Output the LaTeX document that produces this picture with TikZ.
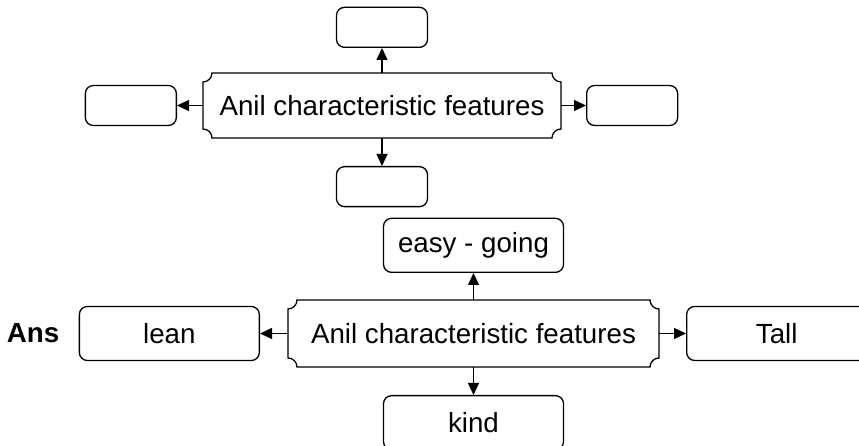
\documentclass[tikz,border=0pt]{standalone}
\usepackage{fontspec}
\setmainfont{Liberation Sans}
\usetikzlibrary{positioning, arrows.meta}

\tikzset{
  emptybox/.style={draw, rounded corners=8pt, line width=1.3pt, minimum width=91pt, minimum height=40pt, inner sep=0pt},
  answer/.style={emptybox, minimum width=180pt, minimum height=54pt},
  plaque/.style={inner sep=0pt, outer sep=0pt},
  arr/.style={line width=1.3pt, -{Triangle[length=12pt,width=11pt]}},
}
\newcommand{\txt}{\fontsize{27.7}{33}\selectfont}

% concave-cornered frame round a node
\newcommand{\plaqueframe}[1]{%
  \draw[line width=1.3pt]
    ([xshift=9pt]#1.north west) -- ([xshift=-9pt]#1.north east)
    arc[start angle=180, end angle=270, radius=9pt]
    -- ([yshift=9pt]#1.south east)
    arc[start angle=90, end angle=180, radius=9pt]
    -- ([xshift=9pt]#1.south west)
    arc[start angle=0, end angle=90, radius=9pt]
    -- ([yshift=-9pt]#1.north west)
    arc[start angle=270, end angle=360, radius=9pt] -- cycle;}

\begin{document}
\begin{tikzpicture}[x=1pt, y=1pt, font=\txt]
    \useasboundingbox (0,0) rectangle (859,446);

    % Question
    \node[plaque, minimum width=358pt, minimum height=65pt] (q) at (382,340.5) {Anil characteristic features};
    \plaqueframe{q}
    \node[emptybox, above=25pt of q] (qup) {};
    \node[emptybox, below=28pt of q] (qdown) {};
    \node[emptybox, left=26pt of q] (qleft) {};
    \node[emptybox, right=25pt of q] (qright) {};

    \path[arr]
    (q) edge (qup)
    (q) edge (qdown)
    (q) edge (qleft)
    (q) edge (qright);

    % Answer
    \node[plaque, minimum width=371pt, minimum height=67pt] (a) at (473.5,112.5) {Anil characteristic features};
    \plaqueframe{a}
    \node[answer, above=27pt of a] (aup) {easy - going};
    \node[answer, below=28pt of a] (adown) {kind};
    \node[answer, left=28pt of a] (aleft) {lean};
    \node[answer, right=27pt of a] (aright) {Tall};
    \node[font=\txt\bfseries] (ans) at (33,113) {Ans};

    \path[arr]
    (a) edge (aup)
    (a) edge (adown)
    (a) edge (aleft)
    (a) edge (aright);

\end{tikzpicture}
\end{document}
